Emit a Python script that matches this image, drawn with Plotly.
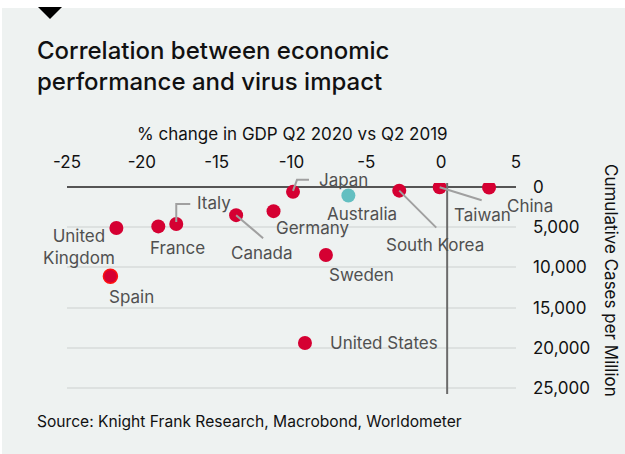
import plotly.graph_objects as go

# ---- data -------------------------------------------------------------
countries = ["United Kingdom", "France", "Italy", "Canada", "Germany", "Japan",
             "Spain", "Australia", "South Korea", "Taiwan", "China", "Sweden",
             "United States"]
gdp_change = [-21.7, -18.9, -17.7, -13.7, -11.2, -9.9,
              -22.1, -6.2, -2.8, -0.1, 3.2, -7.7, -9.1]
cases_per_million = [5100, 4900, 4600, 3500, 3000, 600,
                     11100, 1050, 450, 30, 60, 8450, 19400]
highlight = ["Australia"]

x_ticks = [-25, -20, -15, -10, -5, 0, 5]
x_tick_text = ["-25", "-20", "-15", "-10", "-5", "0", "5"]
y_ticks = [0, 5000, 10000, 15000, 20000, 25000]
y_tick_text = ["0", "5,000", "10,000", "15,000", "20,000", "25,000"]

# ---- style --------------------------------------------------------------
W, H = 625, 454
L, R, T, B = 67, 109, 183, 60
PW, PH = W - L - R, H - T - B
X_RANGE = [-25, 5]
Y_RANGE = [25750, -500]
FONT = "Inter, Liberation Sans, Arial, sans-serif"
RED = "#d50032"
TEAL = "#63bfc1"
LABEL_GREY = "#505050"
INK = "#111111"
PANEL = "#eef2f1"

# label placement (screen-pixel offset of label centre from its marker)
label_text = {"United Kingdom": "United<br>Kingdom"}
label_offset = {
    "United Kingdom": (-37, 19), "France": (19, 22), "Italy": (38, -21),
    "Canada": (26, 38), "Germany": (39, 17), "Japan": (50, -12),
    "Spain": (21, 21), "Australia": (14, 19), "South Korea": (36, 54),
    "Taiwan": (43, 28), "China": (41, 18), "Sweden": (36, 20),
    "United States": (23, 0),
}
label_anchor = {"United States": "left"}
# leader lines (screen-pixel polylines starting at the marker)
leaders = {
    "Italy": [(0, -2), (0, -20), (14, -20)],
    "Japan": [(0, -1), (4, -12), (16, -12)],
    "Canada": [(0, 0), (27, 23)],
    "South Korea": [(0, 0), (37, 37)],
    "Taiwan": [(0, 0), (42, 13)],
}


def px_x(px):
    return (px - L) / PW


def px_y(py):
    return 1 - (py - T) / PH


def data_to_paper(gx, cy):
    return ((gx - X_RANGE[0]) / (X_RANGE[1] - X_RANGE[0]),
            (cy - Y_RANGE[0]) / (Y_RANGE[1] - Y_RANGE[0]))


fig = go.Figure()

colors = [TEAL if c in highlight else RED for c in countries]
line_cols = ["#ff1010" if c == "Spain" else "rgba(0,0,0,0)" for c in countries]
fig.add_trace(go.Scatter(
    x=gdp_change, y=cases_per_million, mode="markers",
    text=countries, hoverinfo="text",
    marker=dict(size=14, color=colors,
                line=dict(color=line_cols, width=1.5)),
    showlegend=False,
))

annotations = []
shapes = []

# background panel and the small marker triangle above it
shapes.append(dict(type="rect", xref="paper", yref="paper",
                   x0=px_x(2), x1=px_x(W + 2), y0=px_y(8), y1=px_y(H + 2),
                   fillcolor=PANEL, line=dict(width=0), layer="below"))
shapes.append(dict(type="path", xref="paper", yref="paper",
                   path="M {} {} L {} {} L {} {} Z".format(
                       px_x(38), px_y(7), px_x(62), px_y(7), px_x(50), px_y(19)),
                   fillcolor="#000000", line=dict(width=0)))

# vertical reference line near zero growth
shapes.append(dict(type="line", xref="x", yref="paper", x0=0.4, x1=0.4,
                   y0=0, y1=1, line=dict(color="#6b6b6b", width=2)))

for name, gx, cy in zip(countries, gdp_change, cases_per_million):
    dx, dy = label_offset[name]
    annotations.append(dict(
        x=gx, y=cy, xref="x", yref="y", text=label_text.get(name, name),
        showarrow=False, xshift=dx, yshift=-dy,
        xanchor=label_anchor.get(name, "center"), yanchor="middle",
        font=dict(family=FONT, size=17, color=LABEL_GREY),
    ))
    if name in leaders:
        ax, ay = data_to_paper(gx, cy)
        path = "M " + " L ".join("{} {}".format(px, -py)
                                 for px, py in leaders[name])
        shapes.append(dict(type="path", xref="paper", yref="paper",
                           xsizemode="pixel", ysizemode="pixel",
                           xanchor=ax, yanchor=ay, path=path,
                           line=dict(color="#a0a0a0", width=2)))

# chart title, axis titles and source
annotations.append(dict(
    xref="paper", yref="paper", x=px_x(35), y=px_y(66),
    xanchor="left", yanchor="middle", align="left",
    text="Correlation between economic<br>performance and virus impact",
    showarrow=False,
    font=dict(family=FONT, size=24, color=INK, weight=500),
))
annotations.append(dict(
    xref="paper", yref="paper", x=px_x(292), y=px_y(134),
    xanchor="center", yanchor="middle",
    text="% change in GDP Q2 2020 vs Q2 2019", showarrow=False,
    font=dict(family=FONT, size=17, color=INK),
))
annotations.append(dict(
    xref="paper", yref="paper", x=px_x(611), y=px_y(280),
    xanchor="center", yanchor="middle",
    text="Cumulative Cases per Million", showarrow=False, textangle=90,
    font=dict(family=FONT, size=17, color=INK),
))
annotations.append(dict(
    xref="paper", yref="paper", x=px_x(35), y=px_y(421),
    xanchor="left", yanchor="middle",
    text="Source: Knight Frank Research, Macrobond, Worldometer",
    showarrow=False, font=dict(family=FONT, size=15.6, color=INK),
))

fig.update_layout(
    width=W, height=H,
    margin=dict(l=L, r=R, t=T, b=B, pad=0),
    paper_bgcolor="#ffffff",
    plot_bgcolor="rgba(0,0,0,0)",
    xaxis=dict(
        side="top", range=X_RANGE, tickvals=x_ticks, ticktext=x_tick_text,
        showgrid=False, zeroline=False, showline=False, ticks="",
        ticklabelstandoff=11,
        tickfont=dict(family=FONT, size=17, color=INK),
    ),
    yaxis=dict(
        side="right", range=Y_RANGE, tickvals=y_ticks,
        ticktext=y_tick_text, showgrid=True, gridcolor="#dde1e0",
        gridwidth=1.5, zeroline=True, zerolinecolor="#555555",
        zerolinewidth=1.5, showline=False, ticks="", ticklabelstandoff=16,
        tickfont=dict(family=FONT, size=17, color=INK),
    ),
    shapes=shapes,
    annotations=annotations,
    font=dict(family=FONT),
)

fig.write_html("out.html")
